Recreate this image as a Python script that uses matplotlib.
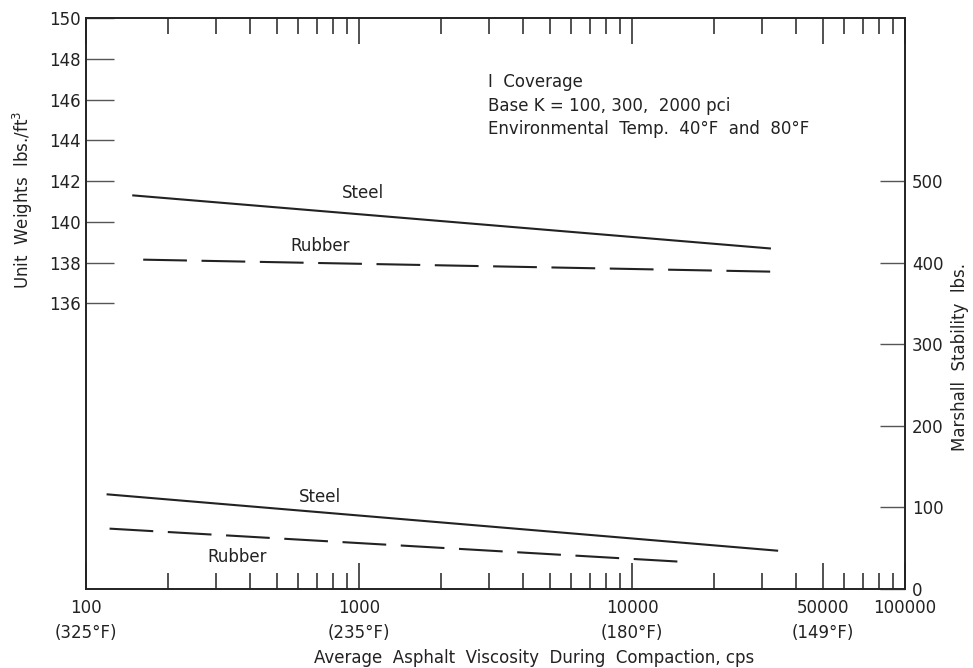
import numpy as np
import matplotlib
matplotlib.use('Agg')
import matplotlib.pyplot as plt
from matplotlib.ticker import LogLocator, NullFormatter, FixedLocator

plt.rcParams['font.family'] = ['DejaVu Sans']
plt.rcParams['font.size'] = 12

# unit weight lines (left axis, lbs/ft3)
uw_steel_x = [149, 32000]
uw_steel_y = [141.3, 138.7]
uw_rubber_x = [162, 36000]
uw_rubber_y = [138.15, 137.55]

# marshall stability lines (right axis, lbs)
ms_steel_x = [120, 34000]
ms_steel_y = [116, 47]
ms_rubber_x = [122, 15900]
ms_rubber_y = [74, 33]

x_ticks = [100, 1000, 10000, 50000, 100000]
x_ticklabels = ['100\n(325°F)', '1000\n(235°F)', '10000\n(180°F)',
                '50000\n(149°F)', '100000\n']
left_ticks = [136, 138, 140, 142, 144, 146, 148, 150]
right_ticks = [0, 100, 200, 300, 400, 500]

notes = ['I  Coverage',
         'Base K = 100, 300,  2000 pci',
         'Environmental  Temp.  40°F  and  80°F']

ink = '#222222'

fig = plt.figure(figsize=(9.73, 6.68), dpi=100)
ax = fig.add_axes([86/973, 1-589/668, 819/973, 571/668])
ax2 = ax.twinx()

ax.set_xscale('log')
ax.set_xlim(100, 100000)
ax.set_ylim(122, 150)
ax2.set_ylim(0, 700)

lw = 1.5
ax.plot(uw_steel_x, uw_steel_y, color=ink, lw=lw)
ax.plot(uw_rubber_x, uw_rubber_y, color=ink, lw=lw, linestyle=(0, (21, 7)))
ax2.plot(ms_steel_x, ms_steel_y, color=ink, lw=lw)
ax2.plot(ms_rubber_x, ms_rubber_y, color=ink, lw=lw, linestyle=(0, (21, 7)))

ax.text(1035, 141.4, 'Steel', ha='center', va='center', color=ink)
ax.text(720, 138.8, 'Rubber', ha='center', va='center', color=ink)
ax2.text(720, 113, 'Steel', ha='center', va='center', color=ink)
ax2.text(357, 39, 'Rubber', ha='center', va='center', color=ink)

for i, line in enumerate(notes):
    ax.text(0.491, 0.888 - i*0.0415, line, transform=ax.transAxes,
            ha='left', va='center', color=ink)

# x axis ticks
ax.xaxis.set_major_locator(FixedLocator(x_ticks))
ax.set_xticklabels(x_ticklabels, linespacing=1.5)
ax.xaxis.set_minor_locator(LogLocator(base=10, subs=np.arange(2, 10), numticks=20))
ax.xaxis.set_minor_formatter(NullFormatter())
ax.tick_params(axis='x', which='major', direction='in', length=19, width=1.1,
               top=True, pad=7, colors=ink)
ax.tick_params(axis='x', which='minor', direction='in', length=11.5, width=1.1,
               top=True, colors=ink)

ax.set_yticks(left_ticks)
ax.tick_params(axis='y', direction='in', length=20, width=1.0, pad=4,
               colors=ink, color='#555555')
ax2.set_yticks(right_ticks)
ax2.tick_params(axis='y', direction='in', length=18, width=1.0, pad=5,
                colors=ink, color='#555555')

for a in (ax, ax2):
    for s in a.spines.values():
        s.set_color(ink)
        s.set_linewidth(1.2)

fig.text(534/973, 1-658/668, 'Average  Asphalt  Viscosity  During  Compaction, cps',
         ha='center', va='center', color=ink)
fig.text(23/973, 1-200/668, 'Unit  Weights  lbs./ft$^3$', rotation=90,
         ha='center', va='center', color=ink)
fig.text(960/973, 1-357/668, 'Marshall  Stability  lbs.', rotation=90,
         ha='center', va='center', color=ink)

fig.savefig('out.png', dpi=100)
